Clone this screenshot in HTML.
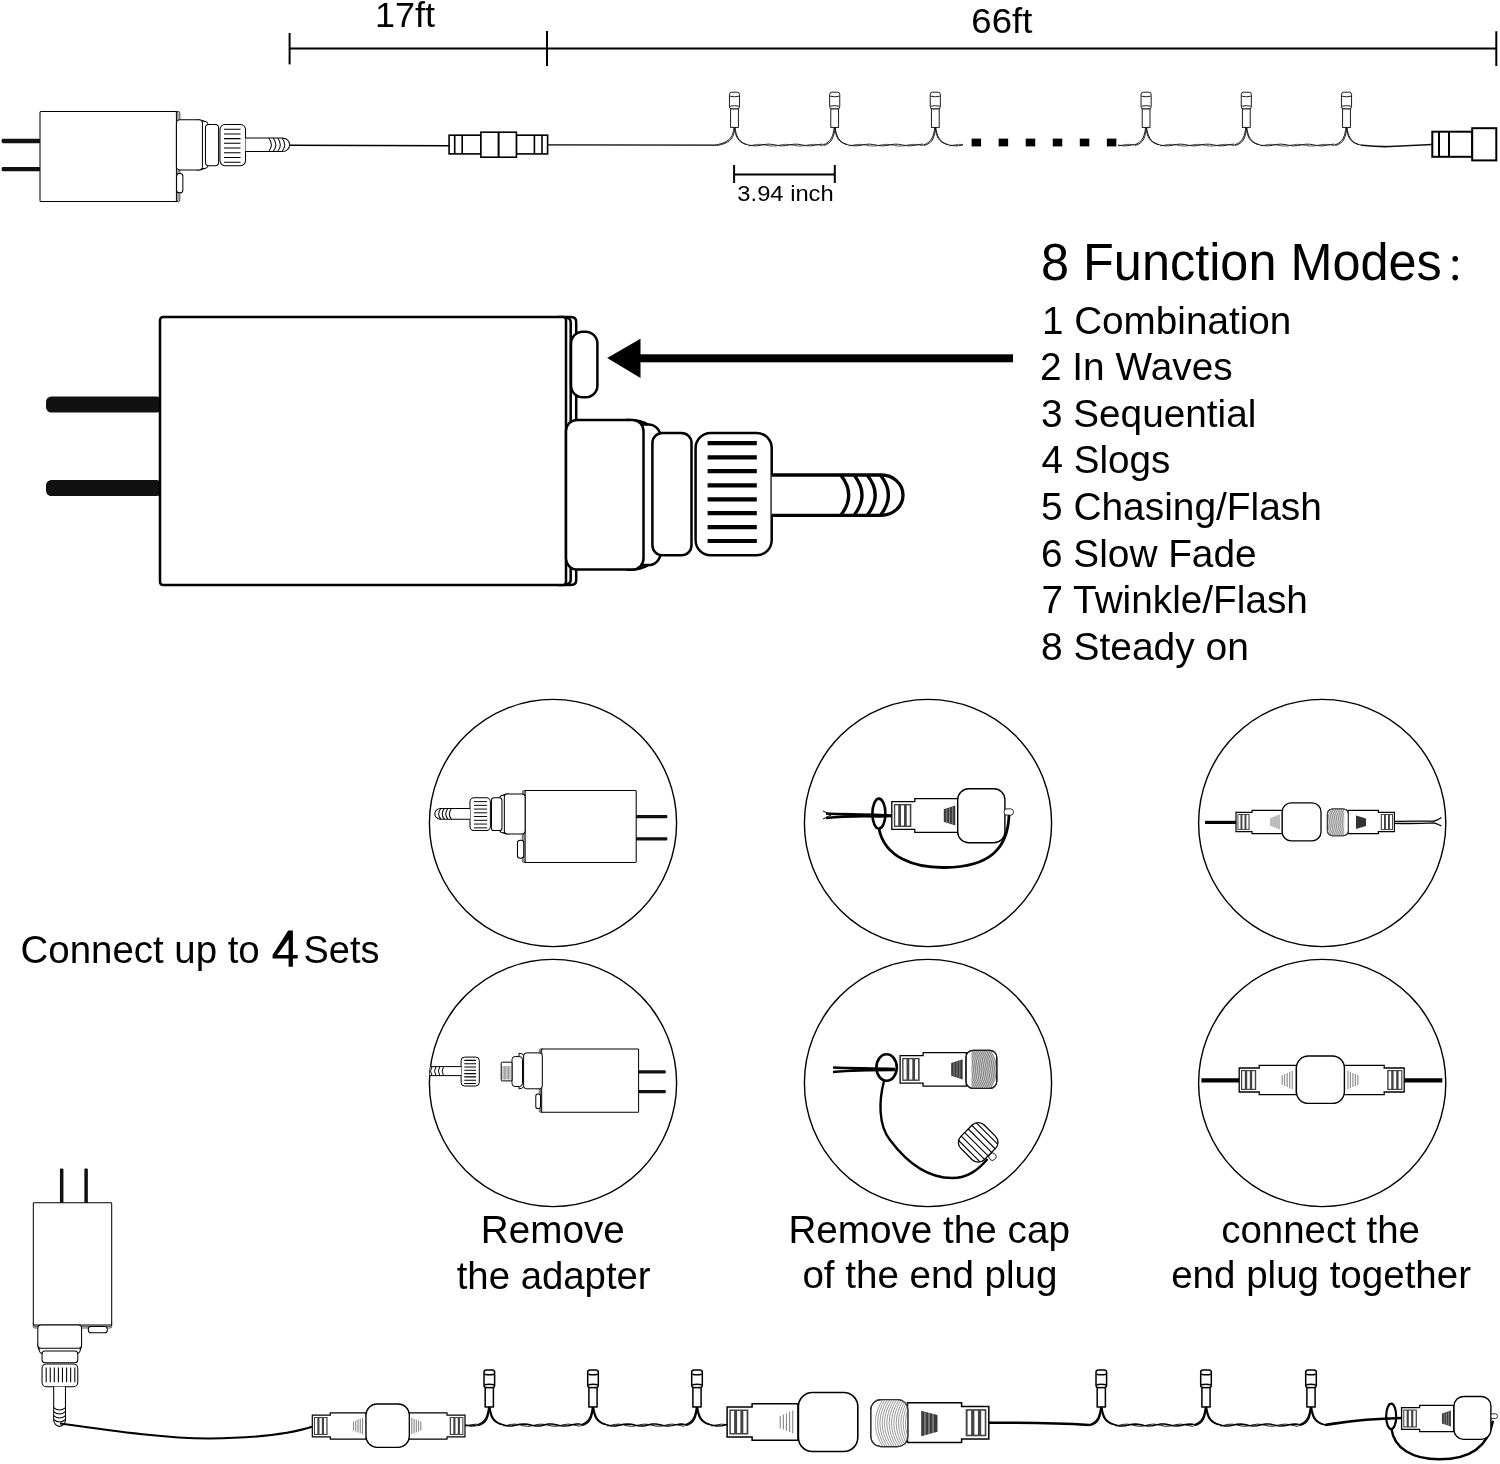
<!DOCTYPE html>
<html><head><meta charset="utf-8"><style>
html,body{margin:0;padding:0;background:#fff;}
svg{display:block;filter:grayscale(1);}
text{font-family:"Liberation Sans",sans-serif;fill:#000;}
</style></head><body>
<svg width="1500" height="1464" viewBox="0 0 1500 1464">
<rect width="1500" height="1464" fill="#fff"/>
<defs></defs>
<g stroke="#000" stroke-width="2" fill="none"><path d="M289.6,48.5 H1496.3"/><path d="M289.6,33 V64.4"/><path d="M547,31 V66"/><path d="M1496.3,31.3 V66"/><path d="M734.1,174.5 H834.8" stroke-width="2"/><path d="M734.1,165 V183"/><path d="M834.8,165 V183"/></g>
<text transform="translate(374.91,26.7) scale(1.0238,1)" font-size="35.2">17ft</text>
<text transform="translate(971.34,33.0) scale(1.0396,1)" font-size="35.2">66ft</text>
<text transform="translate(737.37,200.8) scale(1.0794,1)" font-size="22">3.94 inch</text>
<text transform="translate(1041.02,279.5) scale(0.9886,1)" font-size="51">8 Function Modes</text>
<text transform="translate(1041.95,333.6) scale(1.0175,1)" font-size="38">1 Combination</text>
<text transform="translate(1039.96,380.2) scale(1.0217,1)" font-size="38">2 In Waves</text>
<text transform="translate(1040.96,426.8) scale(1.0193,1)" font-size="38">3 Sequential</text>
<text transform="translate(1041.48,473.4) scale(1.0163,1)" font-size="38">4 Slogs</text>
<text transform="translate(1040.95,520.0) scale(1.0237,1)" font-size="38">5 Chasing/Flash</text>
<text transform="translate(1040.96,566.6) scale(1.0213,1)" font-size="38">6 Slow Fade</text>
<text transform="translate(1041.47,613.2) scale(1.0202,1)" font-size="38">7 Twinkle/Flash</text>
<text transform="translate(1040.95,659.8) scale(1.0253,1)" font-size="38">8 Steady on</text>
<text transform="translate(20.57,963.2) scale(0.9726,1)" font-size="39.5">Connect up to</text>
<text transform="translate(303.55,962.9) scale(0.9732,1)" font-size="39">Sets</text>
<text transform="translate(480.78,1242.8) scale(1.0044,1)" font-size="38.5">Remove</text>
<text transform="translate(456.70,1288.6) scale(0.9959,1)" font-size="38.5">the adapter</text>
<text transform="translate(788.38,1242.8) scale(1.0044,1)" font-size="38.5">Remove the cap</text>
<text transform="translate(802.39,1288.4) scale(1.0016,1)" font-size="38.5">of the end plug</text>
<text transform="translate(1221.30,1242.6) scale(0.9980,1)" font-size="38.5">connect the</text>
<text transform="translate(1171.20,1288.0) scale(1.0007,1)" font-size="38.5">end plug together</text>
<circle cx="1455.2" cy="258.7" r="2.8" fill="#000"/><circle cx="1455.2" cy="277.6" r="2.8" fill="#000"/>
<g transform="translate(40,201.6) scale(0.3360,-0.3366)" stroke="#000" stroke-width="3" stroke-linejoin="round" fill="#fff"><rect x="-114" y="90.05" width="116" height="12.5" rx="4.17" fill="#111" stroke="none"/><rect x="-114" y="173.5" width="116" height="13" rx="4.33" fill="#111" stroke="none"/><path d="M398,0 H411 Q416.2,0 416.2,5 V263 Q416.2,268 411,268 H398" fill="none" stroke-width="2.2"/><path d="M404,0.5 Q410.7,0.5 410.7,5 V263 Q410.7,267.5 404,267.5" fill="none" stroke-width="2.2"/><rect x="0" y="0" width="406" height="268" rx="3"/><rect x="406.5" y="26.1" width="18.7" height="57.1" rx="8.41"/><g transform="translate(406,168.6) scale(1,1)"><rect x="64" y="-70.3" width="30.5" height="140.6" rx="12"/><path d="M60,-74.8 Q74,-75.5 82,-70.3 M60,74.8 Q74,75.5 82,70.3" fill="none"/><rect x="0" y="-74.8" width="77.5" height="149.6" rx="11"/><rect x="86.4" y="-61.8" width="39.1" height="122.2" rx="10"/><rect x="129.6" y="-61.8" width="76.1" height="122.2" rx="15"/><path d="M141.6,-51.7H190.8M141.6,-37.5H190.8M141.6,-23.6H190.8M141.6,-9.4H190.8M141.6,4.5H190.8M141.6,18.4H190.8M141.6,32.3H190.8M141.6,46.2H190.8" stroke-width="3.2" fill="none" stroke-linecap="butt"/><path d="M205.7,-19.8 H315.3 A21.7,20.15 0 0 1 315.3,20.5 H205.7" stroke-width="3"/><path d="M274.7,-19.8 Q290.7,0.3 274.7,20.5M288,-19.8 Q304,0.3 288,20.5M301.2,-19.8 Q317.2,0.3 301.2,20.5M314.4,-19.8 Q330.4,0.3 314.4,20.5" fill="none" stroke-width="3"/></g></g>
<path d="M289,145.3 L449,145.8" stroke="#000" stroke-width="1.4" fill="none"/>
<g stroke="#000" stroke-width="1.6" fill="#fff"><rect x="449.1" y="135.2" width="31.8" height="18.7"/><rect x="516.4" y="135.2" width="31.2" height="18.7"/><rect x="480.9" y="132.2" width="35.5" height="25"/><path d="M454.7,135.2V153.9M462.2,135.2V153.9M534.4,135.2V153.9M542,135.2V153.9" fill="none"/><path d="M498.6,132.2V157.2" stroke-width="2" fill="none"/></g>
<path d="M547.6,144.9 L716,145.2" stroke="#000" stroke-width="1.3" fill="none"/>
<g stroke="#111" stroke-width="0.95" fill="none"><rect x="729.45" y="92.2" width="10.1" height="16.8" rx="2.2" fill="#fff"/><path d="M729.95,96.2 Q734.5,97.4 739.05,96.2" fill="none"/><path d="M729.95,106.2 Q734.5,105.2 739.05,106.2" fill="none"/><rect x="730.6" y="109" width="7.8" height="18.4" fill="#fff"/><path d="M734,127.4 C733,135.4 731.5,142 715.5,145" fill="none"/><path d="M734.8,127.4 C733.7,136.4 732.5,143 716.5,145.5" fill="none"/><path d="M735,127.4 C736,135.4 738.5,143 748.5,145" fill="none"/><path d="M734.5,127.4 C735.5,136.4 737.5,142 746.5,144.5" fill="none"/><rect x="829.65" y="92.2" width="10.1" height="16.8" rx="2.2" fill="#fff"/><path d="M830.15,96.2 Q834.7,97.4 839.25,96.2" fill="none"/><path d="M830.15,106.2 Q834.7,105.2 839.25,106.2" fill="none"/><rect x="830.8" y="109" width="7.8" height="18.4" fill="#fff"/><path d="M834.2,127.4 C833.2,135.4 831.7,142 822.7,145" fill="none"/><path d="M835,127.4 C833.9,136.4 832.7,143 823.7,145.5" fill="none"/><path d="M835.2,127.4 C836.2,135.4 838.7,143 848.7,145" fill="none"/><path d="M834.7,127.4 C835.7,136.4 837.7,142 846.7,144.5" fill="none"/><rect x="930.25" y="92.2" width="10.1" height="16.8" rx="2.2" fill="#fff"/><path d="M930.75,96.2 Q935.3,97.4 939.85,96.2" fill="none"/><path d="M930.75,106.2 Q935.3,105.2 939.85,106.2" fill="none"/><rect x="931.4" y="109" width="7.8" height="18.4" fill="#fff"/><path d="M934.8,127.4 C933.8,135.4 932.3,142 923.3,145" fill="none"/><path d="M935.6,127.4 C934.5,136.4 933.3,143 924.3,145.5" fill="none"/><path d="M935.8,127.4 C936.8,135.4 939.3,143 949.3,145" fill="none"/><path d="M935.3,127.4 C936.3,136.4 938.3,142 947.3,144.5" fill="none"/><rect x="1141.05" y="92.2" width="10.1" height="16.8" rx="2.2" fill="#fff"/><path d="M1141.55,96.2 Q1146.1,97.4 1150.65,96.2" fill="none"/><path d="M1141.55,106.2 Q1146.1,105.2 1150.65,106.2" fill="none"/><rect x="1142.2" y="109" width="7.8" height="18.4" fill="#fff"/><path d="M1145.6,127.4 C1144.6,135.4 1143.1,142 1134.1,145" fill="none"/><path d="M1146.4,127.4 C1145.3,136.4 1144.1,143 1135.1,145.5" fill="none"/><path d="M1146.6,127.4 C1147.6,135.4 1150.1,143 1160.1,145" fill="none"/><path d="M1146.1,127.4 C1147.1,136.4 1149.1,142 1158.1,144.5" fill="none"/><rect x="1241.25" y="92.2" width="10.1" height="16.8" rx="2.2" fill="#fff"/><path d="M1241.75,96.2 Q1246.3,97.4 1250.85,96.2" fill="none"/><path d="M1241.75,106.2 Q1246.3,105.2 1250.85,106.2" fill="none"/><rect x="1242.4" y="109" width="7.8" height="18.4" fill="#fff"/><path d="M1245.8,127.4 C1244.8,135.4 1243.3,142 1234.3,145" fill="none"/><path d="M1246.6,127.4 C1245.5,136.4 1244.3,143 1235.3,145.5" fill="none"/><path d="M1246.8,127.4 C1247.8,135.4 1250.3,143 1260.3,145" fill="none"/><path d="M1246.3,127.4 C1247.3,136.4 1249.3,142 1258.3,144.5" fill="none"/><rect x="1341.45" y="92.2" width="10.1" height="16.8" rx="2.2" fill="#fff"/><path d="M1341.95,96.2 Q1346.5,97.4 1351.05,96.2" fill="none"/><path d="M1341.95,106.2 Q1346.5,105.2 1351.05,106.2" fill="none"/><rect x="1342.6" y="109" width="7.8" height="18.4" fill="#fff"/><path d="M1346,127.4 C1345,135.4 1343.5,142 1334.5,145" fill="none"/><path d="M1346.8,127.4 C1345.7,136.4 1344.5,143 1335.5,145.5" fill="none"/><path d="M1347,127.4 C1348,135.4 1350.5,143 1360.5,145" fill="none"/><path d="M1346.5,127.4 C1347.5,136.4 1349.5,142 1358.5,144.5" fill="none"/><path d="M748.5,145 L752.62,145.74 L756.74,145.85 L760.87,145.23 L764.99,144.42 L769.11,144.1 L773.23,144.55 L777.36,145.38 L781.48,145.89 L785.6,145.64 L789.72,144.85 L793.84,144.19 L797.97,144.22 L802.09,144.91 L806.21,145.68 L810.33,145.87 L814.46,145.32 L818.58,144.49 L822.7,144.1"/><path d="M748.5,145.93 L752.62,145.18 L756.74,144.45 L760.87,144.36 L764.99,144.98 L769.11,145.79 L773.23,146.1 L777.36,145.64 L781.48,144.81 L785.6,144.31 L789.72,144.57 L793.84,145.37 L797.97,146.02 L802.09,145.97 L806.21,145.27 L810.33,144.51 L814.46,144.33 L818.58,144.9 L822.7,145.72" stroke-width="0.7"/><path d="M848.7,145 L852.84,145.74 L856.99,145.84 L861.13,145.22 L865.28,144.41 L869.42,144.11 L873.57,144.57 L877.71,145.41 L881.86,145.89 L886,145.61 L890.14,144.8 L894.29,144.17 L898.43,144.25 L902.58,144.97 L906.72,145.72 L910.87,145.85 L915.01,145.25 L919.16,144.43 L923.3,144.1"/><path d="M848.7,145.93 L852.84,145.18 L856.99,144.45 L861.13,144.36 L865.28,145 L869.42,145.81 L873.57,146.09 L877.71,145.61 L881.86,144.78 L886,144.31 L890.14,144.61 L894.29,145.42 L898.43,146.04 L902.58,145.94 L906.72,145.21 L910.87,144.46 L915.01,144.36 L919.16,144.97 L923.3,145.79" stroke-width="0.7"/><path d="M949.3,145 L953.87,145.79 L958.43,145.77 L963,144.96"/><path d="M949.3,145.93 L953.87,145.09 L958.43,144.37 L963,144.5" stroke-width="0.7"/><path d="M1118,145 L1122.03,145.73 L1126.05,145.86 L1130.07,145.29 L1134.1,144.49"/><path d="M1118,145.93 L1122.03,145.2 L1126.05,144.48 L1130.07,144.34 L1134.1,144.9" stroke-width="0.7"/><path d="M1160.1,145 L1164.22,145.74 L1168.34,145.85 L1172.47,145.23 L1176.59,144.42 L1180.71,144.1 L1184.83,144.55 L1188.96,145.38 L1193.08,145.89 L1197.2,145.64 L1201.32,144.85 L1205.44,144.19 L1209.57,144.22 L1213.69,144.91 L1217.81,145.68 L1221.93,145.87 L1226.06,145.32 L1230.18,144.49 L1234.3,144.1"/><path d="M1160.1,145.93 L1164.22,145.18 L1168.34,144.45 L1172.47,144.36 L1176.59,144.98 L1180.71,145.79 L1184.83,146.1 L1188.96,145.64 L1193.08,144.81 L1197.2,144.31 L1201.32,144.57 L1205.44,145.37 L1209.57,146.02 L1213.69,145.97 L1217.81,145.27 L1221.93,144.51 L1226.06,144.33 L1230.18,144.9 L1234.3,145.72" stroke-width="0.7"/><path d="M1260.3,145 L1264.42,145.74 L1268.54,145.85 L1272.67,145.23 L1276.79,144.42 L1280.91,144.1 L1285.03,144.55 L1289.16,145.38 L1293.28,145.89 L1297.4,145.64 L1301.52,144.85 L1305.64,144.19 L1309.77,144.22 L1313.89,144.91 L1318.01,145.68 L1322.13,145.87 L1326.26,145.32 L1330.38,144.49 L1334.5,144.1"/><path d="M1260.3,145.93 L1264.42,145.18 L1268.54,144.45 L1272.67,144.36 L1276.79,144.98 L1280.91,145.79 L1285.03,146.1 L1289.16,145.64 L1293.28,144.81 L1297.4,144.31 L1301.52,144.57 L1305.64,145.37 L1309.77,146.02 L1313.89,145.97 L1318.01,145.27 L1322.13,144.51 L1326.26,144.33 L1330.38,144.9 L1334.5,145.72" stroke-width="0.7"/><path d="M1360.5,145 C1370,146 1375,147 1390,146.5 L1432.3,144.5" stroke-width="1.6"/></g>
<rect x="971.6" y="138.6" width="9.5" height="7.8" fill="#000"/>
<rect x="998.65" y="138.6" width="9.5" height="7.8" fill="#000"/>
<rect x="1025.7" y="138.6" width="9.5" height="7.8" fill="#000"/>
<rect x="1052.75" y="138.6" width="9.5" height="7.8" fill="#000"/>
<rect x="1079.8" y="138.6" width="9.5" height="7.8" fill="#000"/>
<rect x="1106.85" y="138.6" width="9.5" height="7.8" fill="#000"/>
<g stroke="#000" stroke-width="2" fill="#fff"><rect x="1432.3" y="131.7" width="39.9" height="25.1"/><path d="M1439,131.7V156.8M1449,131.7V156.8" fill="none"/><rect x="1472.2" y="128.2" width="24.1" height="32.2"/></g>
<g transform="translate(160,317)" stroke="#000" stroke-width="2.5" stroke-linejoin="round" fill="#fff"><rect x="-114" y="79.5" width="116" height="16" rx="5.33" fill="#111" stroke="none"/><rect x="-114" y="163" width="116" height="16" rx="5.33" fill="#111" stroke="none"/><path d="M398,0 H411 Q416.2,0 416.2,5 V263 Q416.2,268 411,268 H398" fill="none" stroke-width="2.5"/><path d="M404,0.5 Q410.7,0.5 410.7,5 V263 Q410.7,267.5 404,267.5" fill="none" stroke-width="2.5"/><rect x="0" y="0" width="406" height="268" rx="3"/><rect x="411" y="14.7" width="26.4" height="65.6" rx="11.88"/><g transform="translate(406,177.8) scale(1,1)"><rect x="64" y="-70.3" width="30.5" height="140.6" rx="12"/><path d="M60,-74.8 Q74,-75.5 82,-70.3 M60,74.8 Q74,75.5 82,70.3" fill="none"/><rect x="0" y="-74.8" width="77.5" height="149.6" rx="11"/><rect x="86.4" y="-61.8" width="39.1" height="122.2" rx="10"/><rect x="129.6" y="-61.8" width="76.1" height="122.2" rx="15"/><path d="M141.6,-51.7H190.8M141.6,-37.5H190.8M141.6,-23.6H190.8M141.6,-9.4H190.8M141.6,4.5H190.8M141.6,18.4H190.8M141.6,32.3H190.8M141.6,46.2H190.8" stroke-width="4.2" fill="none" stroke-linecap="butt"/><path d="M205.7,-19.8 H315.3 A21.7,20.15 0 0 1 315.3,20.5 H205.7" stroke-width="3.3"/><path d="M274.7,-19.8 Q290.7,0.3 274.7,20.5M288,-19.8 Q304,0.3 288,20.5M301.2,-19.8 Q317.2,0.3 301.2,20.5M314.4,-19.8 Q330.4,0.3 314.4,20.5" fill="none" stroke-width="3.3"/></g></g>
<rect x="636" y="354.3" width="377" height="8" fill="#000"/>
<path d="M607.2,358 L640.5,338.8 L640.5,378.1 Z" fill="#000"/>
<circle cx="553" cy="823" r="123.6" fill="none" stroke="#000" stroke-width="1.4"/>
<circle cx="553" cy="1083" r="123.6" fill="none" stroke="#000" stroke-width="1.4"/>
<circle cx="928" cy="823" r="123.6" fill="none" stroke="#000" stroke-width="1.4"/>
<circle cx="928" cy="1083" r="123.6" fill="none" stroke="#000" stroke-width="1.4"/>
<circle cx="1322.2" cy="823" r="123.6" fill="none" stroke="#000" stroke-width="1.4"/>
<circle cx="1322.2" cy="1083" r="123.6" fill="none" stroke="#000" stroke-width="1.4"/>
<g transform="translate(636.2,862.4) scale(-0.2736,-0.268)" stroke="#000" stroke-width="3.8" stroke-linejoin="round" fill="#fff"><rect x="-114" y="81.5" width="116" height="12" rx="4" fill="#111" stroke="none"/><rect x="-114" y="165" width="116" height="12" rx="4" fill="#111" stroke="none"/><path d="M398,0 H411 Q416.2,0 416.2,5 V263 Q416.2,268 411,268 H398" fill="none" stroke-width="2.4"/><path d="M404,0.5 Q410.7,0.5 410.7,5 V263 Q410.7,267.5 404,267.5" fill="none" stroke-width="2.4"/><rect x="0" y="0" width="406" height="268" rx="3"/><rect x="411" y="15.7" width="23" height="66.8" rx="10.35"/><g transform="translate(406,180.6) scale(0.98,1)"><rect x="64" y="-70.3" width="30.5" height="140.6" rx="12"/><path d="M60,-74.8 Q74,-75.5 82,-70.3 M60,74.8 Q74,75.5 82,70.3" fill="none"/><rect x="0" y="-74.8" width="77.5" height="149.6" rx="11"/><rect x="86.4" y="-61.8" width="39.1" height="122.2" rx="10"/><rect x="129.6" y="-61.8" width="76.1" height="122.2" rx="15"/><path d="M141.6,-51.7H190.8M141.6,-37.5H190.8M141.6,-23.6H190.8M141.6,-9.4H190.8M141.6,4.5H190.8M141.6,18.4H190.8M141.6,32.3H190.8M141.6,46.2H190.8" stroke-width="3.6" fill="none" stroke-linecap="butt"/><path d="M205.7,-19.8 H315.3 A21.7,20.15 0 0 1 315.3,20.5 H205.7" stroke-width="3.8"/><path d="M274.7,-19.8 Q290.7,0.3 274.7,20.5M288,-19.8 Q304,0.3 288,20.5M301.2,-19.8 Q317.2,0.3 301.2,20.5M314.4,-19.8 Q330.4,0.3 314.4,20.5" fill="none" stroke-width="3.8"/></g></g>
<g transform="translate(638.6,1112.3) scale(-0.2387,-0.236)" stroke="#000" stroke-width="4.2" stroke-linejoin="round" fill="#fff"><rect x="-114" y="80.5" width="116" height="14" rx="4.67" fill="#111" stroke="none"/><rect x="-114" y="164" width="116" height="14" rx="4.67" fill="#111" stroke="none"/><path d="M398,0 H411 Q416.2,0 416.2,5 V263 Q416.2,268 411,268 H398" fill="none" stroke-width="2.6"/><path d="M404,0.5 Q410.7,0.5 410.7,5 V263 Q410.7,267.5 404,267.5" fill="none" stroke-width="2.6"/><rect x="0" y="0" width="406" height="268" rx="3"/><rect x="411" y="15.7" width="19.7" height="62.3" rx="8.87"/></g>
<clipPath id="c4clip"><circle cx="553" cy="1083" r="123.6"/></clipPath>
<g stroke="#000" stroke-width="1" fill="#fff"><path d="M519,1053.3 Q522,1053 524.6,1056 V1086 Q522,1089 519,1088.8 Z"/><rect x="523.6" y="1052.9" width="18.7" height="35.9" rx="3"/><rect x="512" y="1056.6" width="10.5" height="29.9" rx="3"/><rect x="501.2" y="1062.2" width="10.8" height="18.7" rx="1"/><path d="M503,1066V1079.5M504.4,1066V1079.5M505.8,1066V1079.5M507.2,1066V1079.5M508.6,1066V1079.5M510,1066V1079.5" stroke="#666" stroke-width="0.7"/><rect x="461.1" y="1057.1" width="18.2" height="28.9" rx="3.5"/><path d="M464.3,1060.4H476.1M464.3,1063.7H476.1M464.3,1067.0H476.1M464.3,1070.3H476.1M464.3,1073.6H476.1M464.3,1076.9H476.1M464.3,1080.2H476.1M464.3,1083.5H476.1" stroke-width="1.1"/><g clip-path="url(#c4clip)"><path d="M461.1,1066.6 H425 V1075.6 H461.1"/><path d="M432,1066.6 Q429,1071.1 432,1075.6 M436,1066.6 Q433,1071.1 436,1075.6 M439.8,1066.6 Q436.8,1071.1 439.8,1075.6 M443.6,1066.6 Q440.6,1071.1 443.6,1075.6" fill="none"/></g></g>
<path d="M826,813.5 C840,814.5 860,814 880,815 L892,815.5 M826,818 C845,816 860,816 880,816.5 L892,816" stroke="#000" stroke-width="2.4" fill="none"/>
<path d="M823,811 L831,815 L823,819" stroke="#000" stroke-width="1" fill="none"/>
<g transform="translate(891.8,815.5) scale(1.15,1.15)" stroke="#000" stroke-width="1.13" fill="#fff"><path d="M0,-12 H20 V-14.6 H58.4 V14.6 H20 V12 H0 Z"/><rect x="1.8" y="-10" width="15.2" height="20" fill="#444" stroke="none"/><rect x="3.0" y="-8.8" width="2.6" height="17.6" fill="#fff" stroke="none"/><rect x="8.0" y="-8.8" width="2.6" height="17.6" fill="#fff" stroke="none"/><rect x="13.0" y="-8.8" width="2.6" height="17.6" fill="#fff" stroke="none"/><path d="M45.2,-5.5 L55.2,-8.8 V8.8 L45.2,5.5 Z" fill="#3c3c3c" stroke="none"/><path d="M47.7,-6V6M50.2,-7V7M52.7,-7.8V7.8" stroke="#ccc" stroke-width="0.43" fill="none"/></g>
<rect x="957.7" y="788.7" width="47.2" height="54" rx="11" fill="#fff" stroke="#000" stroke-width="1.4"/>
<rect x="1004" y="808.8" width="9.5" height="6.4" rx="3" fill="#fff" stroke="#000" stroke-width="0.8"/>
<path d="M879,829 C885,858 915,868 945,867.5 C990,867 1008,848 1009,815" stroke="#000" stroke-width="2.8" fill="none"/>
<ellipse cx="878.9" cy="813.6" rx="6.5" ry="15" fill="none" stroke="#000" stroke-width="2.6"/>
<path d="M1205,822.4 H1237" stroke="#000" stroke-width="3.2"/>
<g transform="translate(1236,822) scale(0.8,0.8)" stroke="#000" stroke-width="1.5" fill="#fff"><path d="M0,-12 H20 V-14.6 H58 V14.6 H20 V12 H0 Z"/><rect x="1.8" y="-10" width="15.2" height="20" fill="#444" stroke="none"/><rect x="3.0" y="-8.8" width="2.6" height="17.6" fill="#fff" stroke="none"/><rect x="8.0" y="-8.8" width="2.6" height="17.6" fill="#fff" stroke="none"/><rect x="13.0" y="-8.8" width="2.6" height="17.6" fill="#fff" stroke="none"/><path d="M43.80,-5.00V5.00M46.30,-6.05V6.05M48.80,-7.10V7.10M51.30,-8.15V8.15M53.80,-9.20V9.20" stroke="#888" stroke-width="1.38" fill="none"/></g>
<rect x="1282.2" y="802.9" width="38.8" height="38" rx="9" fill="#fff" stroke="#000" stroke-width="1.3"/>
<path d="M1394,821.3 C1410,820.8 1425,821.3 1434,821 C1437,820.5 1439,819 1441.5,817.5 M1394,823.3 C1410,823.8 1425,823.3 1434,822.8 C1437,823.5 1439,825 1441.5,826" stroke="#000" stroke-width="1.3" fill="none"/>
<g transform="translate(1394.4,822) scale(-0.8,0.8)" stroke="#000" stroke-width="1.5" fill="#fff"><path d="M0,-12 H20 V-14.6 H58.2 V14.6 H20 V12 H0 Z"/><rect x="1.8" y="-10" width="15.2" height="20" fill="#444" stroke="none"/><rect x="3.0" y="-8.8" width="2.6" height="17.6" fill="#fff" stroke="none"/><rect x="8.0" y="-8.8" width="2.6" height="17.6" fill="#fff" stroke="none"/><rect x="13.0" y="-8.8" width="2.6" height="17.6" fill="#fff" stroke="none"/></g>
<path d="M1356,815.5 L1366,818.5 V826 L1356,829 Z" fill="#333"/>
<rect x="1327.4" y="809" width="21" height="26.7" rx="5" fill="#fff" stroke="#000" stroke-width="1.1"/><clipPath id="kn1"><rect x="1327.4" y="809" width="21" height="26.7" rx="5"/></clipPath><clipPath id="kn1h"><rect x="1327.4" y="809" width="16.8" height="26.7"/></clipPath><g clip-path="url(#kn1)"><path d="M1332.02,808 Q1322.78,822.35 1332.02,836.7 L1344.2,836.7 L1344.2,808 Z" fill="#d0d0d0" stroke="none"/><path d="M1332.02,808 Q1322.78,822.35 1332.02,836.7M1334.12,808 Q1324.88,822.35 1334.12,836.7M1336.22,808 Q1326.98,822.35 1336.22,836.7M1338.32,808 Q1329.08,822.35 1338.32,836.7M1340.42,808 Q1331.18,822.35 1340.42,836.7M1342.52,808 Q1333.28,822.35 1342.52,836.7M1344.62,808 Q1335.38,822.35 1344.62,836.7M1346.72,808 Q1337.48,822.35 1346.72,836.7M1348.82,808 Q1339.58,822.35 1348.82,836.7M1350.92,808 Q1341.68,822.35 1350.92,836.7M1353.02,808 Q1343.78,822.35 1353.02,836.7" stroke="#666" stroke-width="0.6" fill="none" clip-path="url(#kn1h)"/></g><rect x="1327.4" y="809" width="21" height="26.7" rx="5" fill="none" stroke="#444" stroke-width="1.1"/>
<path d="M833,1067.5 C850,1068.5 870,1068 895,1069 M833,1072 C850,1070.5 870,1070 895,1070" stroke="#000" stroke-width="2.6" fill="none"/>
<g transform="translate(900.1,1069.4) scale(1.15,1.15)" stroke="#000" stroke-width="1.13" fill="#fff"><path d="M0,-12 H20 V-14.6 H57.6 V14.6 H20 V12 H0 Z"/><rect x="1.8" y="-10" width="15.2" height="20" fill="#444" stroke="none"/><rect x="3.0" y="-8.8" width="2.6" height="17.6" fill="#fff" stroke="none"/><rect x="8.0" y="-8.8" width="2.6" height="17.6" fill="#fff" stroke="none"/><rect x="13.0" y="-8.8" width="2.6" height="17.6" fill="#fff" stroke="none"/><path d="M44.4,-5.5 L54.4,-8.8 V8.8 L44.4,5.5 Z" fill="#3c3c3c" stroke="none"/><path d="M46.9,-6V6M49.4,-7V7M51.9,-7.8V7.8" stroke="#ccc" stroke-width="0.43" fill="none"/></g>
<rect x="966" y="1050.3" width="30.8" height="38" rx="7" fill="#fff" stroke="#000" stroke-width="1.2"/><clipPath id="kn2"><rect x="966" y="1050.3" width="30.8" height="38" rx="7"/></clipPath><clipPath id="kn2h"><rect x="971.54" y="1050.3" width="25.26" height="38"/></clipPath><g clip-path="url(#kn2)"><path d="M990.02,1049.3 Q1003.58,1069.3 990.02,1089.3 L971.54,1089.3 L971.54,1049.3 Z" fill="#c4c4c4" stroke="none"/><path d="M990.02,1049.3 Q1003.58,1069.3 990.02,1089.3M987.92,1049.3 Q1001.47,1069.3 987.92,1089.3M985.81,1049.3 Q999.37,1069.3 985.81,1089.3M983.71,1049.3 Q997.26,1069.3 983.71,1089.3M981.61,1049.3 Q995.16,1069.3 981.61,1089.3M979.5,1049.3 Q993.05,1069.3 979.5,1089.3M977.4,1049.3 Q990.95,1069.3 977.4,1089.3M975.29,1049.3 Q988.84,1069.3 975.29,1089.3M973.19,1049.3 Q986.74,1069.3 973.19,1089.3M971.08,1049.3 Q984.63,1069.3 971.08,1089.3M968.98,1049.3 Q982.53,1069.3 968.98,1089.3M966.87,1049.3 Q980.42,1069.3 966.87,1089.3M964.77,1049.3 Q978.32,1069.3 964.77,1089.3M962.66,1049.3 Q976.22,1069.3 962.66,1089.3M960.56,1049.3 Q974.11,1069.3 960.56,1089.3" stroke="#555" stroke-width="0.6" fill="none" clip-path="url(#kn2h)"/></g><rect x="966" y="1050.3" width="30.8" height="38" rx="7" fill="none" stroke="#222" stroke-width="1.2"/>
<path d="M884,1081 C879,1100 878,1125 890,1140 C905,1160 925,1178 952,1178 C968,1178 978,1170 987.5,1159" stroke="#000" stroke-width="2.4" fill="none"/>
<ellipse cx="886.6" cy="1067.5" rx="10.2" ry="13.2" fill="none" stroke="#000" stroke-width="2.6"/>
<g transform="translate(978.2,1142.4) rotate(45)"><rect x="17" y="-3.5" width="6.5" height="7" rx="2.5" fill="#fff" stroke="#000" stroke-width="0.9"/><clipPath id="capclip"><rect x="-16.5" y="-16.5" width="33" height="33" rx="8.5"/></clipPath><rect x="-16.5" y="-16.5" width="33" height="33" rx="8.5" fill="#fff"/><path d="M-20,-12.5H20M-20,-7.5H20M-20,-2.5H20M-20,2.5H20M-20,7.5H20M-20,12.5H20" clip-path="url(#capclip)" stroke="#000" stroke-width="1.1" fill="none"/><rect x="-16.5" y="-16.5" width="33" height="33" rx="8.5" fill="none" stroke="#000" stroke-width="1.3"/></g>
<path d="M1201.4,1080.4 H1240 M1403,1080.4 H1442.3" stroke="#000" stroke-width="4.2"/>
<g transform="translate(1239.2,1080) scale(1,1)" stroke="#000" stroke-width="1.3" fill="#fff"><path d="M0,-12 H20 V-14.6 H57.2 V14.6 H20 V12 H0 Z"/><rect x="1.8" y="-10" width="15.2" height="20" fill="#444" stroke="none"/><rect x="3.0" y="-8.8" width="2.6" height="17.6" fill="#fff" stroke="none"/><rect x="8.0" y="-8.8" width="2.6" height="17.6" fill="#fff" stroke="none"/><rect x="13.0" y="-8.8" width="2.6" height="17.6" fill="#fff" stroke="none"/><path d="M43.00,-5.00V5.00M45.50,-6.05V6.05M48.00,-7.10V7.10M50.50,-8.15V8.15M53.00,-9.20V9.20" stroke="#888" stroke-width="1.1" fill="none"/></g>
<g transform="translate(1404.2,1080) scale(-1,1)" stroke="#000" stroke-width="1.3" fill="#fff"><path d="M0,-12 H20 V-14.6 H60.5 V14.6 H20 V12 H0 Z"/><rect x="1.8" y="-10" width="15.2" height="20" fill="#444" stroke="none"/><rect x="3.0" y="-8.8" width="2.6" height="17.6" fill="#fff" stroke="none"/><rect x="8.0" y="-8.8" width="2.6" height="17.6" fill="#fff" stroke="none"/><rect x="13.0" y="-8.8" width="2.6" height="17.6" fill="#fff" stroke="none"/><path d="M46.30,-5.00V5.00M48.80,-6.05V6.05M51.30,-7.10V7.10M53.80,-8.15V8.15M56.30,-9.20V9.20" stroke="#888" stroke-width="1.1" fill="none"/></g>
<rect x="1296.4" y="1056" width="48" height="47.4" rx="12" fill="#fff" stroke="#000" stroke-width="1.4"/>
<path d="M288.2,930.6 L292.9,930.6 L292.9,955 L297.7,955 L297.7,958.4 L292.9,958.4 L292.9,966.8 L288.6,966.8 L288.6,958.4 L272.6,958.4 L272.6,955 Z M288.6,939.3 L277.2,955 L288.6,955 Z" fill="#000" fill-rule="evenodd"/>
<g transform="matrix(0,0.301,-0.2925,0,111.7,1202.7)" stroke="#000" stroke-width="3.5" stroke-linejoin="round" fill="#fff"><rect x="-114" y="81.5" width="116" height="12" rx="4" fill="#111" stroke="none"/><rect x="-114" y="165" width="116" height="12" rx="4" fill="#111" stroke="none"/><path d="M398,0 H411 Q416.2,0 416.2,5 V263 Q416.2,268 411,268 H398" fill="none" stroke-width="2.4"/><path d="M404,0.5 Q410.7,0.5 410.7,5 V263 Q410.7,267.5 404,267.5" fill="none" stroke-width="2.4"/><rect x="0" y="0" width="406" height="268" rx="3"/><rect x="411" y="15" width="21" height="65" rx="9.45"/><g transform="translate(406,177.8) scale(1,1)"><rect x="64" y="-70.3" width="30.5" height="140.6" rx="12"/><path d="M60,-74.8 Q74,-75.5 82,-70.3 M60,74.8 Q74,75.5 82,70.3" fill="none"/><rect x="0" y="-74.8" width="77.5" height="149.6" rx="11"/><rect x="86.4" y="-61.8" width="39.1" height="122.2" rx="10"/><rect x="129.6" y="-61.8" width="76.1" height="122.2" rx="15"/><path d="M141.6,-51.7H190.8M141.6,-37.5H190.8M141.6,-23.6H190.8M141.6,-9.4H190.8M141.6,4.5H190.8M141.6,18.4H190.8M141.6,32.3H190.8M141.6,46.2H190.8" stroke-width="3.6" fill="none" stroke-linecap="butt"/><path d="M205.7,-19.8 H315.3 A21.7,20.15 0 0 1 315.3,20.5 H205.7" stroke-width="3.6"/><path d="M274.7,-19.8 Q290.7,0.3 274.7,20.5M288,-19.8 Q304,0.3 288,20.5M301.2,-19.8 Q317.2,0.3 301.2,20.5M314.4,-19.8 Q330.4,0.3 314.4,20.5" fill="none" stroke-width="3.6"/></g></g>
<path d="M60,1423.5 C120,1432 170,1438.6 210,1438.4 C255,1438 290,1434 312.8,1426.5" stroke="#000" stroke-width="2" fill="none"/>
<g transform="translate(312.3,1426) scale(0.9,0.9)" stroke="#000" stroke-width="1.33" fill="#fff"><path d="M0,-12 H20 V-14.6 H60 V14.6 H20 V12 H0 Z"/><rect x="1.8" y="-10" width="15.2" height="20" fill="#444" stroke="none"/><rect x="3.0" y="-8.8" width="2.6" height="17.6" fill="#fff" stroke="none"/><rect x="8.0" y="-8.8" width="2.6" height="17.6" fill="#fff" stroke="none"/><rect x="13.0" y="-8.8" width="2.6" height="17.6" fill="#fff" stroke="none"/><path d="M45.80,-5.00V5.00M48.30,-6.05V6.05M50.80,-7.10V7.10M53.30,-8.15V8.15M55.80,-9.20V9.20" stroke="#888" stroke-width="1.22" fill="none"/></g>
<g transform="translate(465,1426) scale(-0.9,0.9)" stroke="#000" stroke-width="1.33" fill="#fff"><path d="M0,-12 H20 V-14.6 H63.3 V14.6 H20 V12 H0 Z"/><rect x="1.8" y="-10" width="15.2" height="20" fill="#444" stroke="none"/><rect x="3.0" y="-8.8" width="2.6" height="17.6" fill="#fff" stroke="none"/><rect x="8.0" y="-8.8" width="2.6" height="17.6" fill="#fff" stroke="none"/><rect x="13.0" y="-8.8" width="2.6" height="17.6" fill="#fff" stroke="none"/><path d="M49.10,-5.00V5.00M51.60,-6.05V6.05M54.10,-7.10V7.10M56.60,-8.15V8.15M59.10,-9.20V9.20" stroke="#888" stroke-width="1.22" fill="none"/></g>
<rect x="366" y="1404" width="43.3" height="43.3" rx="11" fill="#fff" stroke="#000" stroke-width="1.3"/>
<g stroke="#000" stroke-width="1.5" fill="none"><rect x="484" y="1370" width="10.61" height="17.64" rx="2.31" fill="#fff"/><path d="M484.5,1374.2 Q489.3,1375.46 494.1,1374.2" fill="none"/><path d="M484.5,1384.7 Q489.3,1383.65 494.1,1384.7" fill="none"/><rect x="485.2" y="1387.64" width="8.19" height="19.32" fill="#fff"/><path d="M488.8,1406.96 C487.8,1415.36 486.3,1422 476.7,1425" fill="none"/><path d="M489.6,1406.96 C488.5,1416.41 487.3,1423 477.7,1425.5" fill="none"/><path d="M489.8,1406.96 C490.8,1415.36 493.3,1423 504,1425" fill="none"/><path d="M489.3,1406.96 C490.3,1416.41 492.3,1422 502,1424.5" fill="none"/><rect x="587.7" y="1370" width="10.61" height="17.64" rx="2.31" fill="#fff"/><path d="M588.2,1374.2 Q593,1375.46 597.8,1374.2" fill="none"/><path d="M588.2,1384.7 Q593,1383.65 597.8,1384.7" fill="none"/><rect x="588.9" y="1387.64" width="8.19" height="19.32" fill="#fff"/><path d="M592.5,1406.96 C591.5,1415.36 590,1422 580.4,1425" fill="none"/><path d="M593.3,1406.96 C592.2,1416.41 591,1423 581.4,1425.5" fill="none"/><path d="M593.5,1406.96 C594.5,1415.36 597,1423 607.7,1425" fill="none"/><path d="M593,1406.96 C594,1416.41 596,1422 605.7,1424.5" fill="none"/><rect x="691.7" y="1370" width="10.61" height="17.64" rx="2.31" fill="#fff"/><path d="M692.2,1374.2 Q697,1375.46 701.8,1374.2" fill="none"/><path d="M692.2,1384.7 Q697,1383.65 701.8,1384.7" fill="none"/><rect x="692.9" y="1387.64" width="8.19" height="19.32" fill="#fff"/><path d="M696.5,1406.96 C695.5,1415.36 694,1422 684.4,1425" fill="none"/><path d="M697.3,1406.96 C696.2,1416.41 695,1423 685.4,1425.5" fill="none"/><path d="M697.5,1406.96 C698.5,1415.36 701,1423 711.7,1425" fill="none"/><path d="M697,1406.96 C698,1416.41 700,1422 709.7,1424.5" fill="none"/><rect x="1096" y="1370" width="10.61" height="17.64" rx="2.31" fill="#fff"/><path d="M1096.5,1374.2 Q1101.3,1375.46 1106.1,1374.2" fill="none"/><path d="M1096.5,1384.7 Q1101.3,1383.65 1106.1,1384.7" fill="none"/><rect x="1097.2" y="1387.64" width="8.19" height="19.32" fill="#fff"/><path d="M1100.8,1406.96 C1099.8,1415.36 1098.3,1422 1088.7,1425" fill="none"/><path d="M1101.6,1406.96 C1100.5,1416.41 1099.3,1423 1089.7,1425.5" fill="none"/><path d="M1101.8,1406.96 C1102.8,1415.36 1105.3,1423 1116,1425" fill="none"/><path d="M1101.3,1406.96 C1102.3,1416.41 1104.3,1422 1114,1424.5" fill="none"/><rect x="1200.7" y="1370" width="10.61" height="17.64" rx="2.31" fill="#fff"/><path d="M1201.2,1374.2 Q1206,1375.46 1210.8,1374.2" fill="none"/><path d="M1201.2,1384.7 Q1206,1383.65 1210.8,1384.7" fill="none"/><rect x="1201.9" y="1387.64" width="8.19" height="19.32" fill="#fff"/><path d="M1205.5,1406.96 C1204.5,1415.36 1203,1422 1193.4,1425" fill="none"/><path d="M1206.3,1406.96 C1205.2,1416.41 1204,1423 1194.4,1425.5" fill="none"/><path d="M1206.5,1406.96 C1207.5,1415.36 1210,1423 1220.7,1425" fill="none"/><path d="M1206,1406.96 C1207,1416.41 1209,1422 1218.7,1424.5" fill="none"/><rect x="1305.7" y="1370" width="10.61" height="17.64" rx="2.31" fill="#fff"/><path d="M1306.2,1374.2 Q1311,1375.46 1315.8,1374.2" fill="none"/><path d="M1306.2,1384.7 Q1311,1383.65 1315.8,1384.7" fill="none"/><rect x="1306.9" y="1387.64" width="8.19" height="19.32" fill="#fff"/><path d="M1310.5,1406.96 C1309.5,1415.36 1308,1422 1298.4,1425" fill="none"/><path d="M1311.3,1406.96 C1310.2,1416.41 1309,1423 1299.4,1425.5" fill="none"/><path d="M1311.5,1406.96 C1312.5,1415.36 1315,1423 1325.7,1425" fill="none"/><path d="M1311,1406.96 C1312,1416.41 1314,1422 1323.7,1424.5" fill="none"/><path d="M465,1425 L470.85,1426.08 L476.7,1425.45"/><path d="M465,1426.09 L470.85,1424.75 L476.7,1424.12" stroke-width="0.9"/><path d="M503.5,1425 L507.55,1425.89 L511.59,1426.05 L515.64,1425.34 L519.69,1424.36 L523.74,1423.9 L527.78,1424.35 L531.83,1425.34 L535.88,1426.04 L539.93,1425.89 L543.97,1425.01 L548.02,1424.11 L552.07,1423.95 L556.12,1424.65 L560.16,1425.64 L564.21,1426.1 L568.26,1425.66 L572.31,1424.67 L576.35,1423.96 L580.4,1424.1"/><path d="M503.5,1426.09 L507.55,1425.2 L511.59,1424.31 L515.64,1424.15 L519.69,1424.86 L523.74,1425.84 L527.78,1426.3 L531.83,1425.85 L535.88,1424.86 L539.93,1424.16 L543.97,1424.31 L548.02,1425.19 L552.07,1426.09 L556.12,1426.25 L560.16,1425.55 L564.21,1424.56 L568.26,1424.1 L572.31,1424.54 L576.35,1425.53 L580.4,1426.24" stroke-width="0.9"/><path d="M607.3,1425 L611.36,1425.89 L615.42,1426.04 L619.47,1425.33 L623.53,1424.35 L627.59,1423.9 L631.65,1424.36 L635.71,1425.35 L639.76,1426.05 L643.82,1425.88 L647.88,1424.98 L651.94,1424.1 L655.99,1423.96 L660.05,1424.69 L664.11,1425.67 L668.17,1426.1 L672.23,1425.62 L676.28,1424.63 L680.34,1423.94 L684.4,1424.13"/><path d="M607.3,1426.09 L611.36,1425.2 L615.42,1424.31 L619.47,1424.16 L623.53,1424.87 L627.59,1425.86 L631.65,1426.3 L635.71,1425.83 L639.76,1424.84 L643.82,1424.15 L647.88,1424.32 L651.94,1425.22 L655.99,1426.1 L660.05,1426.24 L664.11,1425.51 L668.17,1424.53 L672.23,1424.1 L676.28,1424.58 L680.34,1425.58 L684.4,1426.26" stroke-width="0.9"/><path d="M711.2,1425 L716.5,1426.04 L721.8,1425.69 L727.1,1424.42"/><path d="M711.2,1426.09 L716.5,1424.88 L721.8,1424.1 L727.1,1424.79" stroke-width="0.9"/><path d="M1115.5,1425 L1119.6,1425.9 L1123.7,1426.04 L1127.8,1425.3 L1131.9,1424.31 L1136,1423.9 L1140.1,1424.42 L1144.2,1425.42 L1148.3,1426.07 L1152.4,1425.82 L1156.5,1424.87 L1160.6,1424.03 L1164.7,1424.01 L1168.8,1424.82 L1172.9,1425.78 L1177,1426.08 L1181.1,1425.47 L1185.2,1424.46 L1189.3,1423.91 L1193.4,1424.27"/><path d="M1115.5,1426.09 L1119.6,1425.19 L1123.7,1424.29 L1127.8,1424.17 L1131.9,1424.91 L1136,1425.9 L1140.1,1426.3 L1144.2,1425.77 L1148.3,1424.76 L1152.4,1424.12 L1156.5,1424.39 L1160.6,1425.34 L1164.7,1426.17 L1168.8,1426.18 L1172.9,1425.36 L1177,1424.41 L1181.1,1424.12 L1185.2,1424.74 L1189.3,1425.75 L1193.4,1426.3" stroke-width="0.9"/><path d="M1220.2,1425 L1224.32,1425.9 L1228.43,1426.04 L1232.55,1425.29 L1236.66,1424.3 L1240.78,1423.9 L1244.89,1424.44 L1249.01,1425.45 L1253.13,1426.08 L1257.24,1425.79 L1261.36,1424.83 L1265.47,1424.01 L1269.59,1424.03 L1273.71,1424.87 L1277.82,1425.82 L1281.94,1426.07 L1286.05,1425.41 L1290.17,1424.4 L1294.28,1423.9 L1298.4,1424.33"/><path d="M1220.2,1426.09 L1224.32,1425.18 L1228.43,1424.29 L1232.55,1424.17 L1236.66,1424.93 L1240.78,1425.91 L1244.89,1426.3 L1249.01,1425.75 L1253.13,1424.73 L1257.24,1424.12 L1261.36,1424.42 L1265.47,1425.39 L1269.59,1426.19 L1273.71,1426.16 L1277.82,1425.31 L1281.94,1424.37 L1286.05,1424.13 L1290.17,1424.81 L1294.28,1425.81 L1298.4,1426.3" stroke-width="0.9"/><path d="M1325.2,1425 C1340,1423 1355,1419 1402,1418" stroke-width="2.6"/><path d="M988.8,1422.8 C1020,1422.5 1060,1423 1089.3,1425" stroke-width="2.6"/></g>
<g transform="translate(727.1,1422) scale(1.25,1.25)" stroke="#000" stroke-width="1.2" fill="#fff"><path d="M0,-12 H20 V-14.6 H56.7 V14.6 H20 V12 H0 Z"/><rect x="1.8" y="-10" width="15.2" height="20" fill="#444" stroke="none"/><rect x="3.0" y="-8.8" width="2.6" height="17.6" fill="#fff" stroke="none"/><rect x="8.0" y="-8.8" width="2.6" height="17.6" fill="#fff" stroke="none"/><rect x="13.0" y="-8.8" width="2.6" height="17.6" fill="#fff" stroke="none"/><path d="M42.50,-5.00V5.00M45.00,-6.05V6.05M47.50,-7.10V7.10M50.00,-8.15V8.15M52.50,-9.20V9.20" stroke="#888" stroke-width="0.88" fill="none"/></g>
<rect x="798.4" y="1392.5" width="59.4" height="59" rx="14" fill="#fff" stroke="#000" stroke-width="1.6"/>
<g transform="translate(988.8,1422.7) scale(-1.36,1.36)" stroke="#000" stroke-width="1.1" fill="#fff"><path d="M0,-12 H20 V-14.6 H59.8 V14.6 H20 V12 H0 Z"/><rect x="1.8" y="-10" width="15.2" height="20" fill="#444" stroke="none"/><rect x="3.0" y="-8.8" width="2.6" height="17.6" fill="#fff" stroke="none"/><rect x="8.0" y="-8.8" width="2.6" height="17.6" fill="#fff" stroke="none"/><rect x="13.0" y="-8.8" width="2.6" height="17.6" fill="#fff" stroke="none"/></g>
<path d="M921.2,1410.8 L937.5,1414.9 V1431.7 L921.2,1436.3 Z" fill="#3c3c3c"/><path d="M925,1412V1435M929,1413V1434M933,1414V1433" stroke="#ddd" stroke-width="0.7"/>
<rect x="870.8" y="1399.6" width="37" height="47" rx="10" fill="#fff" stroke="#000" stroke-width="1.1"/><clipPath id="kn3"><rect x="870.8" y="1399.6" width="37" height="47" rx="10"/></clipPath><clipPath id="kn3h"><rect x="875.24" y="1399.6" width="32.56" height="47"/></clipPath><g clip-path="url(#kn3)"><path d="M883.38,1398.6 Q867.1,1423.1 883.38,1447.6 L907.8,1447.6 L907.8,1398.6 Z" fill="#fff" stroke="none"/><path d="M883.38,1398.6 Q867.1,1423.1 883.38,1447.6M885.71,1398.6 Q869.43,1423.1 885.71,1447.6M888.03,1398.6 Q871.75,1423.1 888.03,1447.6M890.36,1398.6 Q874.08,1423.1 890.36,1447.6M892.68,1398.6 Q876.4,1423.1 892.68,1447.6M895.01,1398.6 Q878.73,1423.1 895.01,1447.6M897.33,1398.6 Q881.05,1423.1 897.33,1447.6M899.66,1398.6 Q883.38,1423.1 899.66,1447.6M901.99,1398.6 Q885.71,1423.1 901.99,1447.6M904.31,1398.6 Q888.03,1423.1 904.31,1447.6M906.64,1398.6 Q890.36,1423.1 906.64,1447.6M908.96,1398.6 Q892.68,1423.1 908.96,1447.6M911.29,1398.6 Q895.01,1423.1 911.29,1447.6M913.61,1398.6 Q897.33,1423.1 913.61,1447.6M915.94,1398.6 Q899.66,1423.1 915.94,1447.6M918.27,1398.6 Q901.99,1423.1 918.27,1447.6M920.59,1398.6 Q904.31,1423.1 920.59,1447.6" stroke="#555" stroke-width="0.6" fill="none" clip-path="url(#kn3h)"/></g><rect x="870.8" y="1399.6" width="37" height="47" rx="10" fill="none" stroke="#333" stroke-width="1.1"/>
<path d="M1391.5,1429 C1394,1448 1412,1459.3 1439.3,1459.3 C1468,1459.3 1488,1448 1493,1420.7" stroke="#000" stroke-width="2.4" fill="none"/>
<g transform="translate(1401.6,1418.5) scale(0.9,0.9)" stroke="#000" stroke-width="1.44" fill="#fff"><path d="M0,-12 H20 V-14.6 H58 V14.6 H20 V12 H0 Z"/><rect x="1.8" y="-10" width="15.2" height="20" fill="#444" stroke="none"/><rect x="3.0" y="-8.8" width="2.6" height="17.6" fill="#fff" stroke="none"/><rect x="8.0" y="-8.8" width="2.6" height="17.6" fill="#fff" stroke="none"/><rect x="13.0" y="-8.8" width="2.6" height="17.6" fill="#fff" stroke="none"/><path d="M44.8,-5.5 L54.8,-8.8 V8.8 L44.8,5.5 Z" fill="#3c3c3c" stroke="none"/><path d="M47.3,-6V6M49.8,-7V7M52.3,-7.8V7.8" stroke="#ccc" stroke-width="0.56" fill="none"/></g>
<rect x="1454" y="1396.5" width="36.9" height="42.9" rx="9.5" fill="#fff" stroke="#000" stroke-width="1.4"/>
<rect x="1490.9" y="1413.8" width="6.5" height="4.8" rx="2" fill="#fff" stroke="#000" stroke-width="0.8"/>
<ellipse cx="1391.2" cy="1416.4" rx="5" ry="12.8" fill="none" stroke="#000" stroke-width="2.2"/>
</svg></body></html>
